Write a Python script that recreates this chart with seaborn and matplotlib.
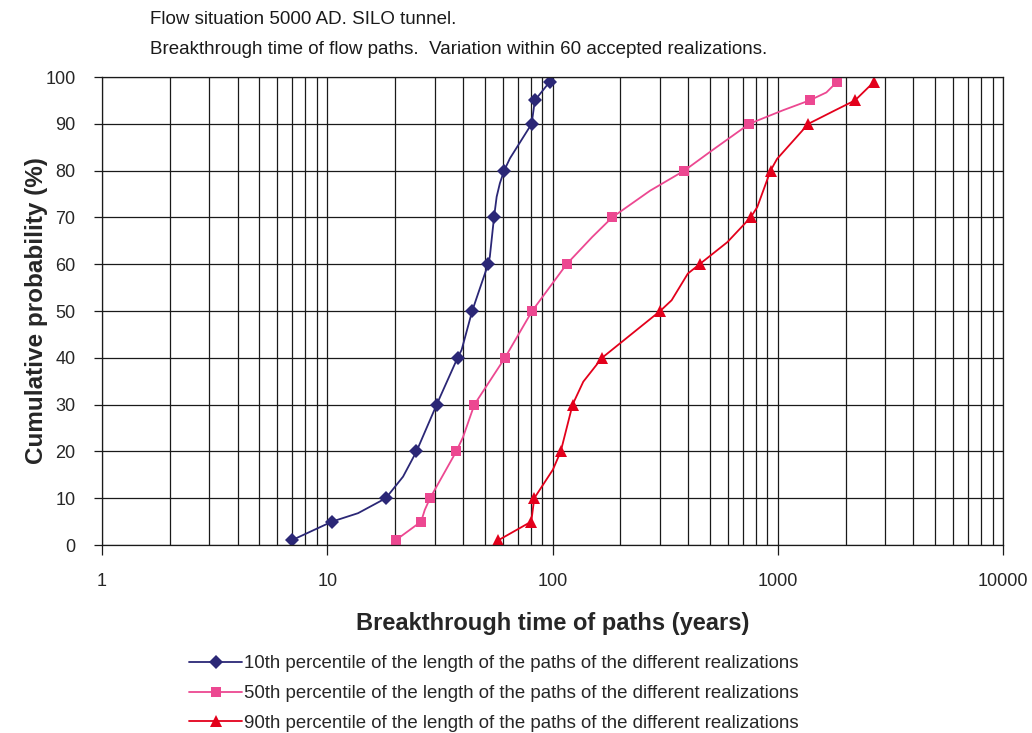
import numpy as np
import pandas as pd
import matplotlib
matplotlib.use("Agg")
import matplotlib.pyplot as plt
from matplotlib.ticker import LogLocator, FixedLocator, NullFormatter
import seaborn as sns

# Cumulative probability (%) and breakthrough time (years) for each percentile curve.
# `*_marked` flags the points drawn with a symbol.
p10_prob = [1, 5, 6.8, 10, 14.6, 20, 30, 40, 41.7, 50, 53.8, 60, 61.6, 70, 74.4, 77.3, 80, 82.6, 90, 95, 99]
p10_time = [6.95, 10.5, 13.7, 18.2, 21.7, 24.9, 30.6, 37.9, 39.5, 44.0, 46.8, 51.8, 52.7, 55.0, 56.5, 58.4, 61.0, 64.7, 80.8, 83.5, 97.3]
p10_marked = [1, 1, 0, 1, 0, 1, 1, 1, 0, 1, 0, 1, 0, 1, 0, 0, 1, 0, 1, 1, 1]

p50_prob = [1, 5, 7.5, 10, 20, 23.1, 30, 40, 50, 60, 65.8, 70, 75.7, 80, 84.2, 90, 92.9, 95, 96.7, 99]
p50_time = [20.1, 26.1, 27.1, 28.6, 37.4, 40.1, 45.0, 61.5, 81.2, 115.5, 150, 184, 271, 385, 507, 748, 1056, 1384, 1644, 1836]
p50_marked = [1, 1, 0, 1, 1, 0, 1, 1, 1, 1, 0, 1, 0, 1, 0, 1, 0, 1, 0, 1]

p90_prob = [1, 5, 10, 16.1, 20, 30, 34.9, 40, 50, 52.3, 58, 60, 64.7, 70, 72.2, 80, 82.5, 90, 92.9, 95, 99]
p90_time = [57.4, 80.5, 83.0, 100.4, 108.8, 122.8, 137, 166, 300.6, 338, 399, 449.7, 597, 758, 811, 929, 993, 1368, 1800, 2203, 2680]
p90_marked = [1, 1, 1, 0, 1, 1, 0, 1, 1, 0, 0, 1, 0, 1, 0, 1, 0, 1, 0, 1, 1]

series_labels = [
    "10th percentile of the length of the paths of the different realizations",
    "50th percentile of the length of the paths of the different realizations",
    "90th percentile of the length of the paths of the different realizations",
]
title_lines = [
    "Flow situation 5000 AD. SILO tunnel.",
    "Breakthrough time of flow paths.  Variation within 60 accepted realizations.",
]
x_ticks = [1, 10, 100, 1000, 10000]
y_ticks = list(range(0, 101, 10))

sns.set_style("white")
plt.rcParams["font.family"] = ["Liberation Sans", "DejaVu Sans"]

fig = plt.figure(figsize=(10.32, 7.33), dpi=100)
ax = fig.add_axes([102 / 1032, 1 - 545 / 733, 901 / 1032, 468 / 733])

styles = [
    dict(color="#2b2776", marker="D", ms=7),
    dict(color="#ec4891", marker="s", ms=7.5),
    dict(color="#e3001b", marker="^", ms=9),
]
curves = [
    (p10_time, p10_prob, p10_marked),
    (p50_time, p50_prob, p50_marked),
    (p90_time, p90_prob, p90_marked),
]

for (t, p, m), lab, st in zip(curves, series_labels, styles):
    df = pd.DataFrame({"time": t, "prob": p})
    idx = [i for i, flag in enumerate(m) if flag]
    sns.lineplot(
        data=df, x="time", y="prob", ax=ax, sort=False, estimator=None,
        color=st["color"], lw=1.3, marker=st["marker"], markersize=st["ms"],
        markeredgewidth=0, markevery=idx, label=lab,
    )

ax.set_xscale("log")
ax.set_xlim(1, 10000)
ax.set_ylim(0, 100)
ax.xaxis.set_major_locator(FixedLocator(x_ticks))
ax.set_xticklabels([str(v) for v in x_ticks])
ax.xaxis.set_minor_locator(LogLocator(base=10, subs=np.arange(2, 10)))
ax.xaxis.set_minor_formatter(NullFormatter())
ax.set_yticks(y_ticks)

ax.grid(True, which="major", axis="both", color="#1a1a1a", lw=0.9)
ax.grid(True, which="minor", axis="x", color="#1a1a1a", lw=0.9)
ax.set_axisbelow(True)
for s in ax.spines.values():
    s.set_color("#1a1a1a")
    s.set_linewidth(0.9)

ax.tick_params(axis="x", which="major", length=7, width=0.9, color="#1a1a1a",
               labelsize=13, pad=13, direction="out", bottom=True)
ax.tick_params(axis="x", which="minor", length=0)
ax.tick_params(axis="y", which="major", length=6, width=0.9, color="#1a1a1a",
               labelsize=13, pad=13, direction="out", left=True)

ax.set_xlabel("Breakthrough time of paths (years)", fontsize=17, fontweight="bold", labelpad=16)
ax.set_ylabel("Cumulative probability (%)", fontsize=17.5, fontweight="bold", labelpad=-2)

fig.text(150 / 1032, 1 - 19 / 733, title_lines[0], fontsize=13.5, va="center", ha="left", color="#1a1a1a")
fig.text(150 / 1032, 1 - 49 / 733, title_lines[1], fontsize=13.5, va="center", ha="left", color="#1a1a1a")

leg = ax.legend(loc="upper left", bbox_to_anchor=(182 / 1032, 1 - 648 / 733),
                bbox_transform=fig.transFigure, frameon=False, fontsize=13.4,
                handlelength=2.8, handletextpad=0.15, labelspacing=0.68, borderaxespad=0)

fig.savefig("out.png", dpi=100)
